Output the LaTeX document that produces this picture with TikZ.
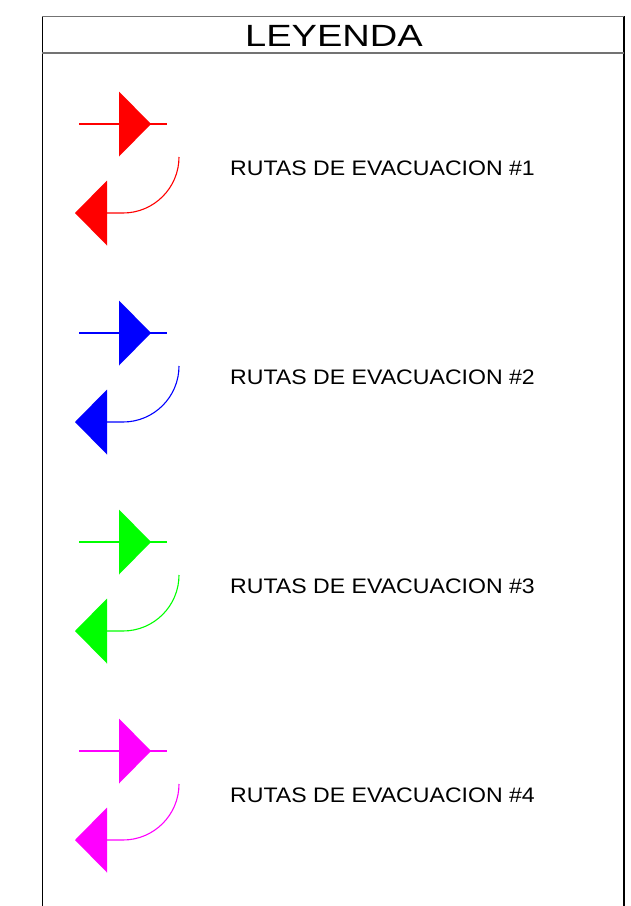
\documentclass[tikz,border=0pt]{standalone}
\usepackage{fontspec}
\setmainfont{Liberation Sans}
\definecolor{rtred}{RGB}{255,0,0}
\definecolor{rtblue}{RGB}{0,0,255}
\definecolor{rtgreen}{RGB}{0,255,0}
\definecolor{rtmagenta}{RGB}{255,0,255}
\tikzset{
  frameh/.style={draw=black!55, line width=1.6pt},
  framev/.style={draw=black, line width=1.2pt},
  routeline/.style={line width=1.1pt},
  legtext/.style={font=\fontsize{21}{24}\selectfont, anchor=base west, inner sep=0pt, xscale=1.1},
  titletext/.style={font=\fontsize{30.7}{34}\selectfont, anchor=base, inner sep=0pt, xscale=1.24}
}
\begin{document}
\begin{tikzpicture}[x=1pt,y=-1pt]
\useasboundingbox (0,0) rectangle (631,906);
% frame
\draw[framev] (42.3,16) -- (42.3,906);
\draw[framev] (624,16) -- (624,906);
\draw[frameh] (42.3,16.5) -- (624,16.5);
\draw[frameh] (42.3,52.8) -- (624,52.8);
\node[titletext] (title) at (334,46) {LEYENDA};
% legend entries
\foreach \col/\num [count=\i from 0] in {rtred/1,rtblue/2,rtgreen/3,rtmagenta/4}{
  \pgfmathsetmacro{\yo}{124+209*\i}
  \coordinate (s\num) at (79,\yo);
  \coordinate (e\num) at (167,\yo);
  \draw[routeline, draw=\col] (s\num) -- (e\num);
  \fill[\col] (119,\yo-32.5) -- (151,\yo) -- (119,\yo+32.5) -- cycle;
  \coordinate (c\num) at (179,\yo+33);
  \coordinate (d\num) at (107,\yo+89);
  \draw[routeline, draw=\col] (c\num) .. controls (179,\yo+63.9) and (153.9,\yo+89) .. (123,\yo+89) -- (d\num);
  \fill[\col] (107,\yo+56.5) -- (75,\yo+89) -- (107,\yo+121.5) -- cycle;
  \node[legtext] (t\num) at (230,\yo+51) {RUTAS DE EVACUACION \#\num};
}
\end{tikzpicture}
\end{document}
